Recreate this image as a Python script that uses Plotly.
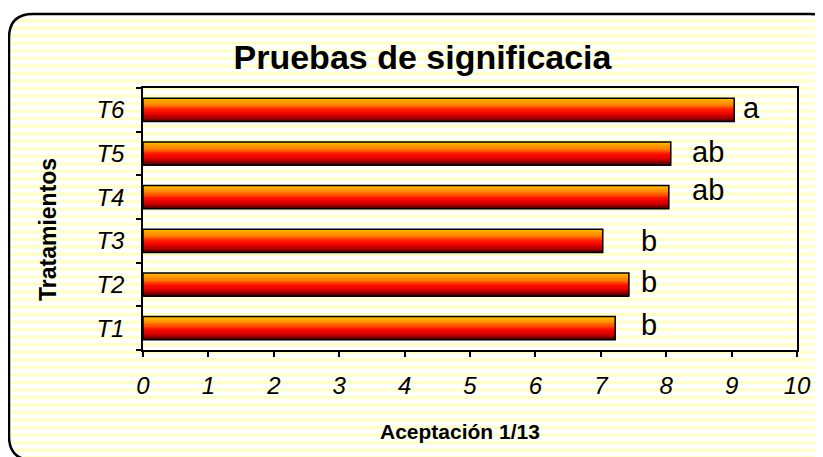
import math
import plotly.graph_objects as go

# data
tratamientos = ["T1", "T2", "T3", "T4", "T5", "T6"]
aceptacion = [7.22, 7.43, 7.03, 8.04, 8.07, 9.04]
letras = ["b", "b", "b", "ab", "ab", "a"]
x_ticks = list(range(0, 11))

# letters were placed by hand in the original chart
label_x = [7.74, 7.74, 7.74, 8.64, 8.64, 9.31]
label_shift = [3, 3, 0, 7, 2, 2]

# page is drawn with an 8px body margin, so the figure is 8px smaller
OFF = 8
W, H = 823 - OFF, 457 - OFF
PL, PR, PT, PB = 143, 797, 88, 350      # plot area in page pixels
pw, ph = PR - PL, PB - PT


def px(x):
    return (x - PL) / pw


def py(y):
    return (PB - y) / ph


def mix(c1, c2, t):
    return tuple(round(a + (b - a) * t) for a, b in zip(c1, c2))


# vertical gradient of the bars, top -> bottom
stops = [(0.0, (255, 196, 0)), (0.3, (255, 128, 0)), (0.55, (255, 16, 0)),
         (0.75, (220, 0, 0)), (0.9, (140, 0, 0)), (1.0, (80, 0, 0))]


def grad(t):
    for (t0, c0), (t1, c1) in zip(stops, stops[1:]):
        if t <= t1:
            return "rgb(%d,%d,%d)" % mix(c0, c1, (t - t0) / (t1 - t0))
    return "rgb(%d,%d,%d)" % stops[-1][1]


fig = go.Figure()

bw = 0.53
N = 20
sw = bw / N
for i in range(N):
    fig.add_trace(go.Bar(
        y=tratamientos, x=aceptacion, orientation="h",
        width=sw * 1.04, offset=bw / 2 - (i + 1) * sw,
        marker=dict(color=grad((i + 0.5) / N), line=dict(width=0)),
        showlegend=False, hoverinfo="skip"
    ))

# outline of each bar
fig.add_trace(go.Bar(
    y=tratamientos, x=aceptacion, orientation="h",
    width=bw, offset=-bw / 2,
    marker=dict(color="rgba(0,0,0,0)", line=dict(color="black", width=1.5)),
    showlegend=False,
    hovertemplate="%{y}: %{x}<extra></extra>"
))

for xv, yv, txt, sh in zip(label_x, tratamientos, letras, label_shift):
    fig.add_annotation(x=xv, y=yv, text=txt, showarrow=False, xanchor="center",
                       yshift=sh, font=dict(size=29, color="black"))

# axis titles
fig.add_annotation(x=px(460), y=py(431), xref="paper", yref="paper",
                   text="<b>Aceptación 1/13</b>", showarrow=False,
                   xanchor="center", yanchor="middle", font=dict(size=21))
fig.add_annotation(x=px(48), y=py(230), xref="paper", yref="paper",
                   text="<b>Tratamientos</b>", showarrow=False, textangle=-90,
                   xanchor="center", yanchor="middle", font=dict(size=23))

# background: pale yellow stripes inside a rounded frame
bl, bt, br, bb, rad = 9, 14, 834, 460, 24


def inset(y):
    if y < bt + rad:
        dy = bt + rad - y
    elif y > bb - rad:
        dy = y - (bb - rad)
    else:
        return 0
    if dy >= rad:
        return None
    return rad - math.sqrt(rad * rad - dy * dy)


path = ""
period, thick = 7.535, 3.4
y = 19 - period
while y < bb:
    y0, y1 = max(y, bt + 1), min(y + thick, bb - 1)
    if y1 > y0:
        ins = inset((y0 + y1) / 2)
        if ins is not None:
            x0, x1 = bl + 1 + ins, min(823, br - 1 - ins)
            path += "M%.5f,%.5f L%.5f,%.5f L%.5f,%.5f L%.5f,%.5f Z " % (
                px(x0), py(y0), px(x1), py(y0), px(x1), py(y1), px(x0), py(y1))
    y += period

fig.add_shape(type="path", path=path, xref="paper", yref="paper", layer="below",
              fillcolor="#FFFFCC", line=dict(width=0))

frame = "M{},{} Q{},{} {},{} L{},{} Q{},{} {},{} L{},{} Q{},{} {},{} L{},{} Q{},{} {},{} Z".format(
    px(bl), py(bt + rad), px(bl), py(bt), px(bl + rad), py(bt),
    px(br - rad), py(bt), px(br), py(bt), px(br), py(bt + rad),
    px(br), py(bb - rad), px(br), py(bb), px(br - rad), py(bb),
    px(bl + rad), py(bb), px(bl), py(bb), px(bl), py(bb - rad))
fig.add_shape(type="path", path=frame, xref="paper", yref="paper", layer="below",
              line=dict(color="black", width=2.5))

fig.update_layout(
    width=W, height=H,
    margin=dict(l=PL - OFF, r=823 - PR, t=PT - OFF, b=457 - PB),
    barmode="overlay",
    paper_bgcolor="white",
    plot_bgcolor="rgba(0,0,0,0)",
    font=dict(family="Arial, Liberation Sans, sans-serif", color="black"),
    title=dict(text="<b>Pruebas de significacia</b>", x=(422.5 - OFF) / W,
               xanchor="center", y=1 - (57 - OFF) / H, yanchor="middle",
               font=dict(size=34)),
    xaxis=dict(
        range=[0, 10], tickvals=x_ticks, showgrid=False, zeroline=False,
        showline=True, linecolor="black", linewidth=1.5, mirror=True,
        ticks="outside", ticklen=5, tickcolor="black", tickwidth=1.5,
        tickfont=dict(size=24, style="italic"), ticklabelstandoff=8,
    ),
    yaxis=dict(
        categoryorder="array", categoryarray=tratamientos,
        showgrid=False, zeroline=False,
        showline=True, linecolor="black", linewidth=1.5, mirror=True,
        ticks="outside", ticklen=5, tickcolor="black", tickwidth=1.5,
        tickson="boundaries",
        tickfont=dict(size=24, style="italic"), ticklabelstandoff=12,
    ),
)

fig.write_html("out.html")
